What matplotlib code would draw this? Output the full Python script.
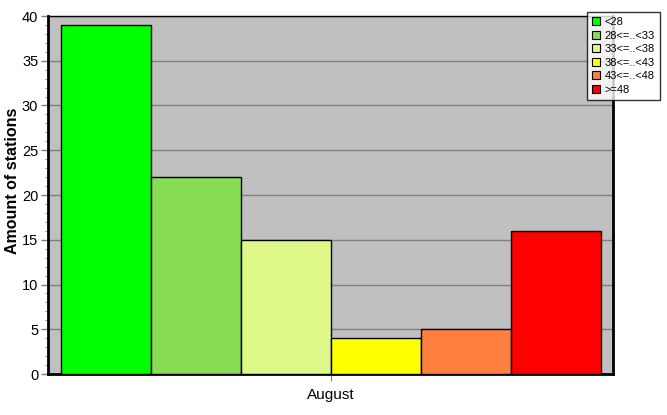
import matplotlib
matplotlib.use("Agg")
from matplotlib import pyplot as plt
from matplotlib.patches import Patch
from matplotlib.ticker import MultipleLocator

plt.rcParams["font.family"] = ["Liberation Sans", "DejaVu Sans"]

categories = ["<28", "28<=..<33", "33<=..<38", "38<=..<43", "43<=..<48", ">=48"]
counts = [39, 22, 15, 4, 5, 16]
colors = ["#00ff00", "#88dd55", "#ddf888", "#ffff00", "#ff7f40", "#ff0000"]
month = "August"

fig = plt.figure(figsize=(6.67, 4.15), dpi=100)
ax = fig.add_axes([48 / 667, 41 / 415, 565 / 667, 358 / 415])
ax.set_facecolor("#c0c0c0")

pos = list(range(len(counts)))
ax.bar(pos, counts, width=1.0, color=colors, edgecolor="black", linewidth=1, zorder=3)

ax.set_xlim(-0.644, 5.633)
ax.set_ylim(0, 40)
ax.set_xticks([2.5])
ax.set_xticklabels([month], fontsize=11)
ax.yaxis.set_major_locator(MultipleLocator(5))
ax.yaxis.set_minor_locator(MultipleLocator(1))
ax.tick_params(axis="y", labelsize=10.5, length=5, color="#808080", width=1, pad=2)
ax.tick_params(axis="y", which="minor", length=2, color="#808080")
ax.tick_params(axis="x", length=5, color="#808080", pad=5)
ax.grid(axis="y", color="#808080", linewidth=1, zorder=1)
ax.set_axisbelow(True)

fig.text(13 / 667, 1 - 181 / 415, "Amount of stations", rotation=90,
         ha="center", va="center", fontsize=11.5, fontweight="bold")

for side in ["left", "bottom", "right"]:
    ax.spines[side].set_linewidth(2)
ax.spines["top"].set_linewidth(1)

handles = [Patch(facecolor=c, edgecolor="black", linewidth=0.8) for c in colors]
leg = fig.legend(handles, categories, loc="upper left",
                 bbox_to_anchor=(587 / 667, 1 - 12 / 415), fontsize=8,
                 frameon=True, fancybox=False, handlelength=0.75, handleheight=0.75,
                 handletextpad=0.4, labelspacing=0.32, borderpad=0.45,
                 borderaxespad=0)
leg.get_frame().set_edgecolor("black")
leg.get_frame().set_linewidth(1)

fig.savefig("out.png", dpi=100)
